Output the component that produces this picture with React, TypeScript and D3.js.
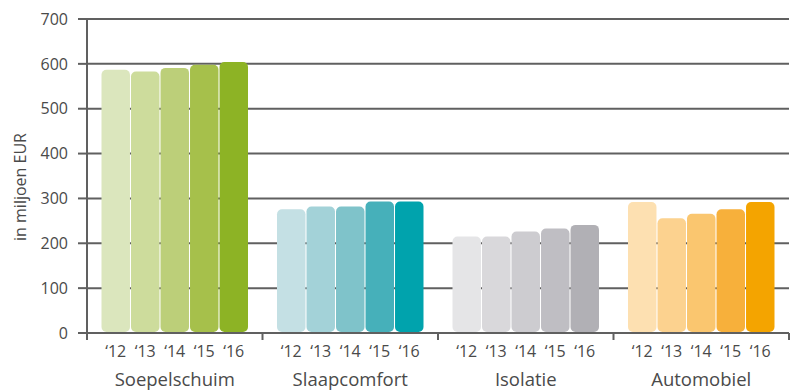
import React from "react";
import * as d3 from "d3";

const categories = ["Soepelschuim", "Slaapcomfort", "Isolatie", "Automobiel"];
const years = ["\u201812", "\u201813", "\u201814", "\u201815", "\u201816"];
const soepelschuim = [587, 583, 591, 598, 604];
const slaapcomfort = [276, 282, 282, 293, 293];
const isolatie = [215, 215, 226, 233, 241];
const automobiel = [292, 256, 266, 276, 292];
const yTicks = [0, 100, 200, 300, 400, 500, 600, 700];

const palettes = [
  ["#dbe6bd", "#cddc9c", "#bccf79", "#a6c04b", "#8db325"],
  ["#c4e0e4", "#a3d2d8", "#7fc3ca", "#46b0ba", "#00a3ad"],
  ["#e5e5e7", "#d9d8db", "#cdccd0", "#bfbec3", "#b1b0b5"],
  ["#fde0b1", "#fcd28f", "#fac66f", "#f7b03b", "#f4a400"],
];

const seriesValues = [soepelschuim, slaapcomfort, isolatie, automobiel];

export default function App() {
  const W = 798, H = 391;
  const left = 87, right = 789, top = 19, bottom = 333;
  const y = d3.scaleLinear().domain([0, 700]).range([bottom, top]);
  const x0 = d3.scaleBand<string>().domain(categories).range([left, right]).padding(0);
  const bw = x0.bandwidth();
  const x1 = d3.scaleBand<string>().domain(years).range([14.5, bw - 14.5]).paddingInner(0.035).paddingOuter(0);
  const textColor = "#4a4a4a";
  const lineColor = "#606060";
  const font = "'Open Sans', 'Noto Sans', sans-serif";

  return (
    <svg width={W} height={H} style={{ position: "absolute", left: 0, top: 0 }} fontFamily={font}>
      {yTicks.filter((t) => t > 0).map((t) => (
        <line key={t} x1={left} x2={right} y1={y(t)} y2={y(t)} stroke={lineColor} strokeWidth={2} />
      ))}
      {categories.map((c, ci) => (
        <g key={c} transform={`translate(${x0(c)},0)`}>
          {seriesValues[ci].map((v, i) => (
            <rect
              key={i}
              x={x1(years[i])}
              y={y(v)}
              width={x1.bandwidth()}
              height={y(0) - y(v) - 1}
              rx={5}
              ry={5}
              fill={palettes[ci][i]}
            />
          ))}
          {years.map((yr) => (
            <text
              key={yr}
              x={(x1(yr) as number) + x1.bandwidth() / 2}
              y={357}
              textAnchor="middle"
              fontSize={16}
              fill={textColor}
            >
              {yr}
            </text>
          ))}
          <text x={bw / 2} y={386} textAnchor="middle" fontSize={18.5} fill={textColor}>
            {c}
          </text>
        </g>
      ))}
      <line x1={left} x2={left} y1={top} y2={bottom + 7} stroke={lineColor} strokeWidth={2} />
      {yTicks.map((t) => (
        <g key={t}>
          <line x1={left - 9} x2={left} y1={y(t)} y2={y(t)} stroke={lineColor} strokeWidth={2} />
          <text x={68} y={y(t)} dy="0.36em" textAnchor="end" fontSize={16} fill={textColor}>
            {t}
          </text>
        </g>
      ))}
      <line x1={left} x2={right} y1={bottom} y2={bottom} stroke={lineColor} strokeWidth={2} />
      {categories.map((c) => (
        <line key={c} x1={(x0(c) as number) + bw} x2={(x0(c) as number) + bw} y1={bottom} y2={bottom + 7} stroke={lineColor} strokeWidth={2} />
      ))}
      <text
        transform={`translate(26,${187}) rotate(-90)`}
        textAnchor="middle"
        fontSize={16}
        fill={textColor}
      >
        in miljoen EUR
      </text>
    </svg>
  );
}
